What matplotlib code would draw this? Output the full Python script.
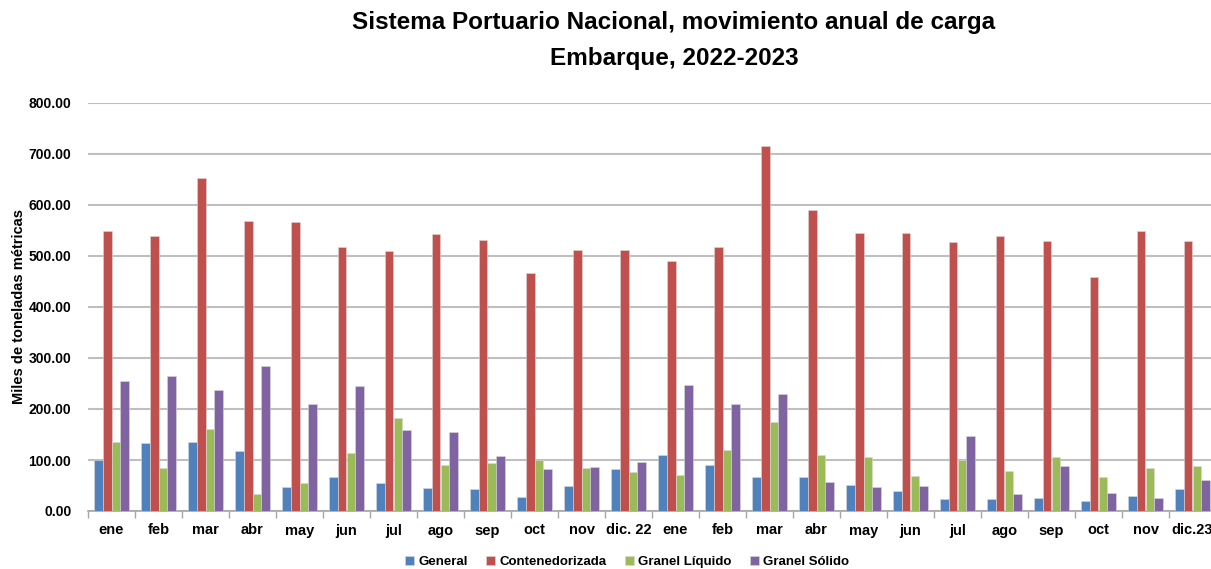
import numpy as np
import matplotlib.pyplot as plt

meses = ['ene', 'feb', 'mar', 'abr', 'may', 'jun', 'jul', 'ago', 'sep', 'oct', 'nov', 'dic. 22',
         'ene', 'feb', 'mar', 'abr', 'may', 'jun', 'jul', 'ago', 'sep', 'oct', 'nov', 'dic.23']

general = [100, 133, 135, 118, 48, 66, 54, 46, 44, 27, 49, 82,
           110, 90, 66, 67, 51, 39, 23, 23, 26, 20, 30, 44]
contenedorizada = [549, 539, 653, 569, 567, 518, 509, 544, 531, 466, 511, 512,
                   491, 517, 715, 590, 545, 545, 527, 540, 530, 458, 549, 530]
granel_liquido = [135, 84, 160, 33, 54, 113, 183, 91, 95, 100, 84, 76,
                  70, 119, 174, 110, 105, 69, 100, 79, 105, 66, 85, 88]
granel_solido = [255, 265, 238, 285, 210, 246, 159, 154, 107, 82, 86, 96,
                 248, 210, 229, 57, 48, 49, 147, 33, 89, 35, 25, 60]

series = [('General', general, '#4F81BD'),
          ('Contenedorizada', contenedorizada, '#C0504D'),
          ('Granel Líquido', granel_liquido, '#9BBB59'),
          ('Granel Sólido', granel_solido, '#8064A2')]

plt.rcParams['font.family'] = ['Liberation Sans', 'DejaVu Sans']

fig = plt.figure(figsize=(12.11, 5.69), dpi=100)
ax = fig.add_axes([88/1211, 1 - 511/569, 1128/1211, 408/569])

x = np.arange(len(meses))
w = 0.185
for i, (nombre, vals, col) in enumerate(series):
    ax.bar(x + (i - 1.5) * w, vals, w, color=col, label=nombre,
           edgecolor='#d9d9d9', linewidth=0.4, zorder=3)

ax.set_xlim(-0.5, len(meses) - 0.5)
ax.set_ylim(0, 800)
ax.set_yticks(np.arange(0, 801, 100))
ax.set_yticklabels(['%.2f' % v for v in np.arange(0, 801, 100)], fontsize=10, fontweight='bold')
ax.yaxis.grid(True, color='#bfbfbf', linewidth=1.5, zorder=0)
ax.tick_params(axis='y', length=0, pad=12)

ax.set_xticks(x)
ax.set_xticklabels(meses, fontsize=10.5, fontweight='bold')
ax.set_xticks(np.arange(-0.5, len(meses), 1), minor=True)
ax.tick_params(axis='x', which='major', length=0, pad=9)
ax.tick_params(axis='x', which='minor', length=5, color='#a6a6a6', width=1)

for s in ['top', 'right', 'left']:
    ax.spines[s].set_visible(False)
ax.spines['bottom'].set_color('#a6a6a6')
ax.spines['bottom'].set_linewidth(1.2)

ax.set_ylabel('Miles de toneladas métricas', fontsize=10.5, fontweight='bold', labelpad=2)

fig.text(674/1211, 1 - 23/569, 'Sistema Portuario Nacional, movimiento anual de carga',
         ha='center', va='center', fontsize=17.5, fontweight='bold')
fig.text(674/1211, 1 - 58/569, 'Embarque, 2022-2023',
         ha='center', va='center', fontsize=17.5, fontweight='bold')

fig.legend(loc='center', bbox_to_anchor=(627/1211, 1 - 562/569), ncol=4, frameon=False,
           prop={'weight': 'bold', 'size': 9.5}, handlelength=0.7, handleheight=0.7,
           columnspacing=1.4, handletextpad=0.3)

fig.savefig('out.png', dpi=100)
